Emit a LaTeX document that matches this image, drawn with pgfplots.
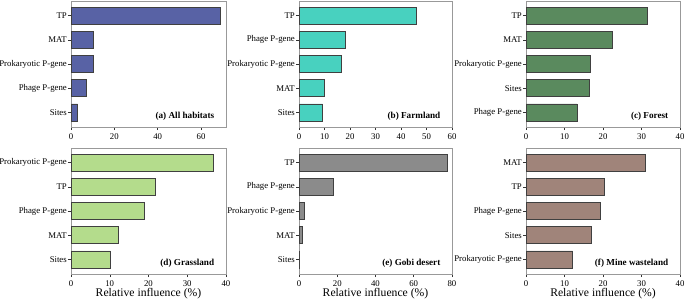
\documentclass[border=0pt]{standalone}
\usepackage{fontspec}
\setmainfont{Liberation Serif}
\usepackage{pgfplots}
\pgfplotsset{compat=1.18}
\definecolor{cA}{HTML}{5862A5}
\definecolor{cB}{HTML}{48D1BF}
\definecolor{cC}{HTML}{5A8A5E}
\definecolor{cD}{HTML}{B4DC8C}
\definecolor{cE}{HTML}{8B8B8B}
\definecolor{cF}{HTML}{A0847A}
\pgfplotsset{panel/.style={
  scale only axis, height=126bp,
  xbar, bar width=17bp, xmin=0, ymin=-0.6, ymax=4.6, y dir=reverse,
  ytick={0,1,2,3,4},
  axis line style={draw=black!40},
  tick style={black!80, line width=0.5pt},
  major tick length=3bp, tick align=outside,
  xtick pos=bottom, ytick pos=left,
  ticklabel style={font=\fontsize{8.8}{10}\selectfont},
  /pgf/number format/assume math mode=true,
  yticklabel style={inner sep=1bp},
  xlabel style={font=\fontsize{11.7}{13}\selectfont, yshift=5bp},
  every axis plot/.append style={draw=black!75, line width=0.6pt},
  anchor=north west,
}}
\newcommand{\plab}[1]{\node[anchor=south east, inner sep=0pt, font=\bfseries\fontsize{9.2}{10}\selectfont] at (axis description cs:0.925,0.05) {#1};}
\begin{document}
\begin{tikzpicture}
\path[use as bounding box] (0,0) rectangle (685bp,-300bp);
% (a)
\begin{axis}[panel, at={(71bp,-1bp)}, width=155bp, xmax=71.5, xtick={0,20,40,60},
  yticklabels={TP,MAT,Prokaryotic P-gene,Phage P-gene,Sites}]
\addplot[fill=cA] coordinates {(69.1,0) (10.1,1) (10.1,2) (6.9,3) (3.1,4)};
\plab{(a) All habitats}
\end{axis}
% (b)
\begin{axis}[panel, at={(299bp,-1bp)}, width=153bp, xmax=60, xtick={0,10,...,60},
  yticklabels={TP,Phage P-gene,Prokaryotic P-gene,MAT,Sites}]
\addplot[fill=cB] coordinates {(46.0,0) (18.3,1) (16.4,2) (10.0,3) (9.3,4)};
\plab{(b) Farmland}
\end{axis}
% (c)
\begin{axis}[panel, at={(526bp,-1bp)}, width=154bp, xmax=40, xtick={0,10,...,40},
  yticklabels={TP,MAT,Prokaryotic P-gene,Sites,Phage P-gene}]
\addplot[fill=cC] coordinates {(31.6,0) (22.4,1) (16.8,2) (16.45,3) (13.2,4)};
\plab{(c) Forest}
\end{axis}
% (d)
\begin{axis}[panel, at={(71bp,-148bp)}, width=155bp, xmax=40, xtick={0,10,...,40},
  yticklabels={Prokaryotic P-gene,TP,Phage P-gene,MAT,Sites},
  xlabel={Relative influence (\%)}]
\addplot[fill=cD] coordinates {(36.8,0) (21.8,1) (18.8,2) (12.3,3) (10.2,4)};
\plab{(d) Grassland}
\end{axis}
% (e)
\begin{axis}[panel, at={(299bp,-148bp)}, width=153bp, xmax=80, xtick={0,20,...,80},
  yticklabels={TP,Phage P-gene,Prokaryotic P-gene,MAT,Sites},
  xlabel={Relative influence (\%)}]
\addplot[fill=cE] coordinates {(77.4,0) (18.1,1) (3.0,2) (1.6,3) (0.3,4)};
\plab{(e) Gobi desert}
\end{axis}
% (f)
\begin{axis}[panel, at={(526bp,-148bp)}, width=154bp, xmax=40, xtick={0,10,...,40},
  yticklabels={MAT,TP,Phage P-gene,Sites,Prokaryotic P-gene},
  xlabel={Relative influence (\%)}]
\addplot[fill=cF] coordinates {(30.9,0) (20.4,1) (19.3,2) (16.9,3) (12.1,4)};
\plab{(f) Mine wasteland}
\end{axis}
\end{tikzpicture}
\end{document}
